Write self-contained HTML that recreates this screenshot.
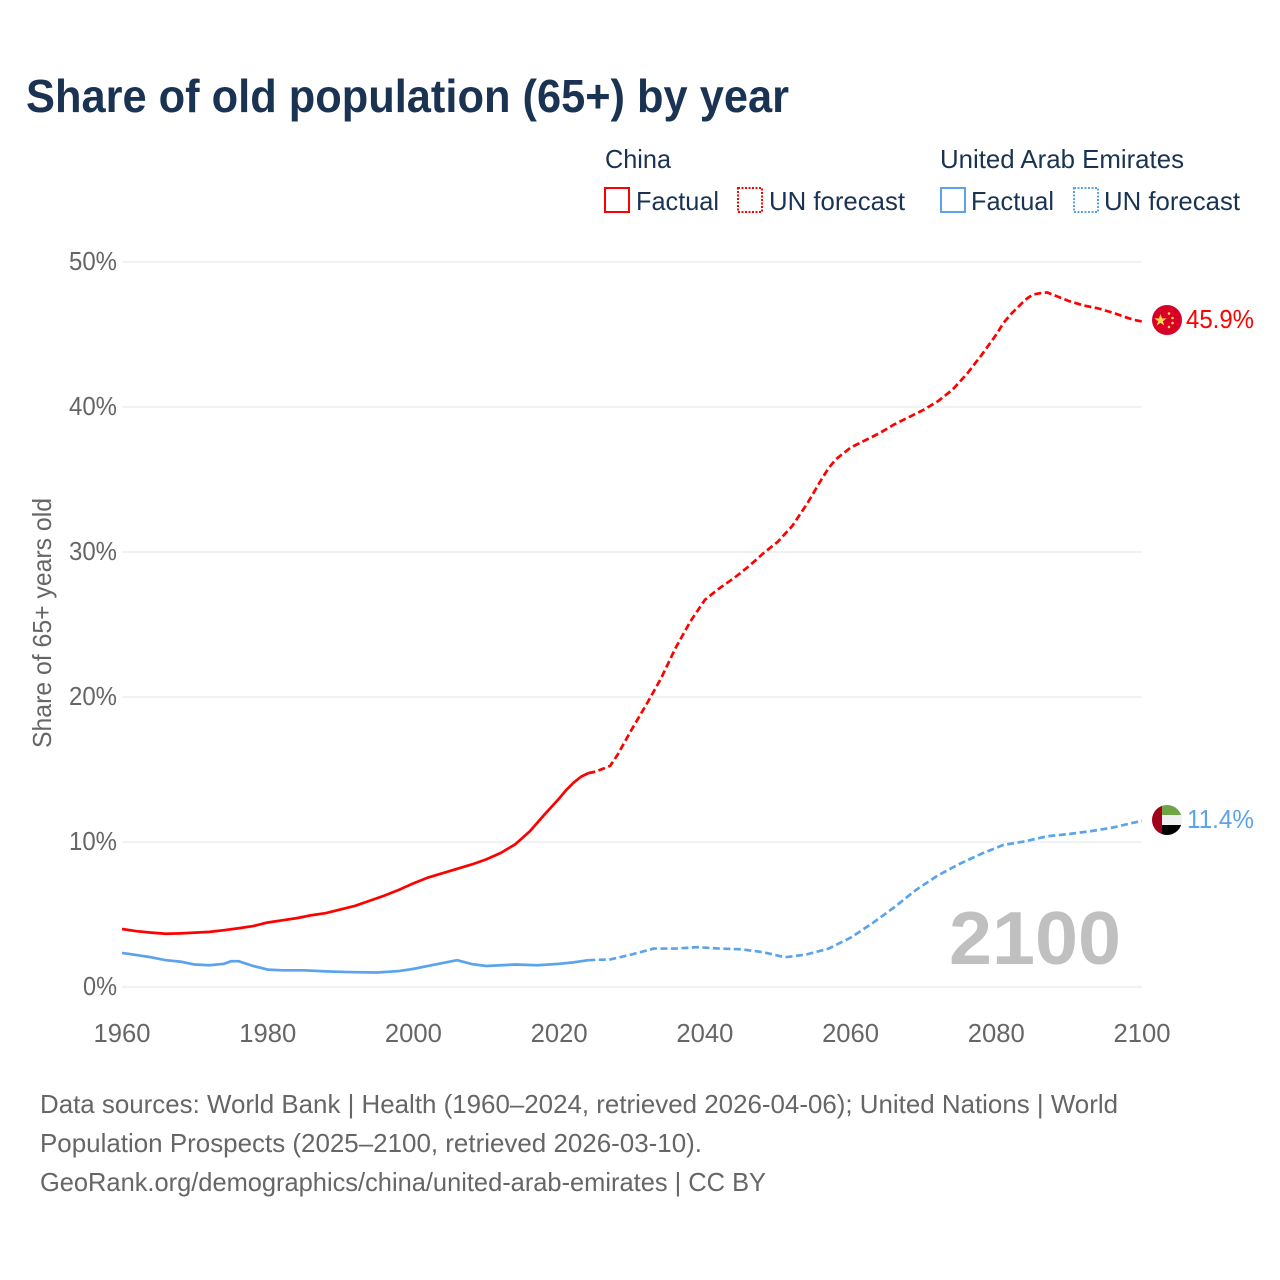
<!DOCTYPE html>
<html lang="en">
<head>
<meta charset="utf-8">
<title>Share of old population (65+) by year</title>
<style>
html,body{margin:0;padding:0;background:#fff;width:1280px;height:1280px;overflow:hidden}
svg{display:block;font-family:"Liberation Sans",sans-serif}
</style>
</head>
<body>
<svg id="chart" width="1280" height="1280" viewBox="0 0 1280 1280" xmlns="http://www.w3.org/2000/svg">
<rect width="1280" height="1280" fill="#fff"/>
<text x="26" y="112" font-size="46" font-weight="700" fill="#1a3353" textLength="763" lengthAdjust="spacingAndGlyphs">Share of old population (65+) by year</text>

<g font-size="26" fill="#1a3353">
<text x="605" y="168" textLength="66" lengthAdjust="spacingAndGlyphs">China</text>
<text x="940" y="168" textLength="244" lengthAdjust="spacingAndGlyphs">United Arab Emirates</text>
<rect x="605" y="188" width="24" height="24" fill="none" stroke="#ff0000" stroke-width="2"/>
<text x="636" y="210" textLength="83" lengthAdjust="spacingAndGlyphs">Factual</text>
<rect x="738" y="188" width="24" height="24" fill="none" stroke="#ff0000" stroke-width="2" stroke-dasharray="2 1.5"/>
<text x="769" y="210" textLength="136" lengthAdjust="spacingAndGlyphs">UN forecast</text>
<rect x="941" y="188" width="24" height="24" fill="none" stroke="#5ba4ec" stroke-width="2"/>
<text x="971" y="210" textLength="83" lengthAdjust="spacingAndGlyphs">Factual</text>
<rect x="1074" y="188" width="24" height="24" fill="none" stroke="#5ba4ec" stroke-width="2" stroke-dasharray="2 1.5"/>
<text x="1104" y="210" textLength="136" lengthAdjust="spacingAndGlyphs">UN forecast</text>
</g>

<g id="grid"></g>
<g id="yticks" font-size="26" fill="#666"></g>
<g id="xticks" font-size="26" fill="#666"></g>
<text transform="translate(51,748) rotate(-90)" font-size="26" fill="#666" textLength="250" lengthAdjust="spacingAndGlyphs">Share of 65+ years old</text>

<text x="949" y="964" font-size="75" font-weight="700" fill="#c0c0c0" textLength="172" lengthAdjust="spacingAndGlyphs">2100</text>

<g id="series"></g>

<g>
<circle cx="1167" cy="320" r="15" fill="#d80027"/>
<polygon points="1160.5,314 1162,318.4 1166.6,318.4 1162.9,321.2 1164.3,325.6 1160.5,322.9 1156.7,325.6 1158.1,321.2 1154.4,318.4 1159,318.4" fill="#ffda44"/>
<circle cx="1169" cy="313.5" r="1.3" fill="#ffda44"/>
<circle cx="1172.5" cy="318" r="1.3" fill="#ffda44"/>
<circle cx="1172.5" cy="323" r="1.3" fill="#ffda44"/>
<circle cx="1169" cy="327" r="1.3" fill="#ffda44"/>
<text x="1186" y="328" font-size="26" fill="#ff0000" textLength="68" lengthAdjust="spacingAndGlyphs">45.9%</text>
</g>
<g>
<clipPath id="uaeClip"><circle cx="1167" cy="820" r="15"/></clipPath>
<g clip-path="url(#uaeClip)">
<rect x="1152" y="805" width="30" height="30" fill="#f0f0f0"/>
<rect x="1162" y="805" width="20" height="10" fill="#6da544"/>
<rect x="1162" y="825" width="20" height="10" fill="#000"/>
<rect x="1152" y="805" width="10" height="30" fill="#a2001d"/>
</g>
<text x="1187" y="828" font-size="26" fill="#5ba4ec" textLength="67" lengthAdjust="spacingAndGlyphs">11.4%</text>
</g>

<g font-size="26" fill="#666">
<text x="40" y="1113" textLength="1078" lengthAdjust="spacingAndGlyphs">Data sources: World Bank | Health (1960–2024, retrieved 2026-04-06); United Nations | World</text>
<text x="40" y="1152" textLength="662" lengthAdjust="spacingAndGlyphs">Population Prospects (2025–2100, retrieved 2026-03-10).</text>
<text x="40" y="1191" textLength="726" lengthAdjust="spacingAndGlyphs">GeoRank.org/demographics/china/united-arab-emirates | CC BY</text>
</g>
</svg>
<script>
const xTickYears = [1960, 1980, 2000, 2020, 2040, 2060, 2080, 2100];
const yTickValues = [0, 10, 20, 30, 40, 50];
const chinaFactualYears = [1960,1962,1964,1966,1968,1970,1972,1974,1976,1978,1980,1982,1984,1986,1988,1990,1992,1994,1996,1998,2000,2002,2004,2006,2008,2010,2012,2014,2016,2018,2020,2021,2022,2023,2024];
const chinaFactualValues = [4.0,3.85,3.75,3.67,3.7,3.75,3.8,3.92,4.05,4.2,4.45,4.6,4.75,4.95,5.1,5.35,5.6,5.95,6.3,6.7,7.15,7.55,7.85,8.15,8.45,8.8,9.25,9.85,10.75,11.9,13.0,13.6,14.1,14.5,14.75];
const chinaForecastYears = [2024,2025,2027,2028,2030,2032,2034,2036,2038,2040,2042,2044,2046,2048,2050,2052,2054,2056,2057,2058,2060,2062,2064,2066,2068,2070,2072,2074,2076,2078,2080,2081,2082,2084,2085,2086,2087,2088,2090,2092,2094,2096,2098,2099,2100];
const chinaForecastValues = [14.75,14.85,15.25,16.0,17.8,19.5,21.3,23.4,25.2,26.7,27.5,28.2,29.0,29.9,30.7,31.8,33.3,35.0,35.8,36.4,37.2,37.7,38.2,38.8,39.3,39.8,40.4,41.2,42.3,43.6,45.0,45.8,46.4,47.4,47.75,47.85,47.9,47.7,47.3,47.0,46.8,46.5,46.15,46.0,45.9];
const uaeFactualYears = [1960,1962,1964,1966,1968,1970,1972,1974,1975,1976,1978,1980,1982,1985,1988,1991,1995,1998,2000,2002,2004,2006,2008,2010,2012,2014,2017,2020,2022,2024];
const uaeFactualValues = [2.35,2.2,2.05,1.85,1.75,1.55,1.5,1.6,1.78,1.78,1.45,1.2,1.15,1.15,1.08,1.03,1.0,1.1,1.25,1.45,1.65,1.85,1.58,1.45,1.5,1.55,1.5,1.6,1.7,1.85];
const uaeForecastYears = [2024,2027,2030,2033,2036,2039,2042,2045,2048,2051,2054,2057,2060,2063,2066,2069,2072,2075,2078,2081,2084,2087,2090,2093,2096,2099,2100];
const uaeForecastValues = [1.85,1.9,2.25,2.65,2.65,2.75,2.65,2.6,2.4,2.05,2.25,2.65,3.4,4.4,5.5,6.7,7.7,8.5,9.2,9.8,10.05,10.4,10.55,10.75,11.0,11.35,11.45];

const NS = 'http://www.w3.org/2000/svg';
const xScale = function (year) { return 122 + (year - 1960) * (1142 - 122) / 140; };
const yScale = function (value) { return 987 - value * (987 - 262) / 50; };

function svgEl(tag, attrs, parent) {
  const el = document.createElementNS(NS, tag);
  for (const k in attrs) el.setAttribute(k, attrs[k]);
  parent.appendChild(el);
  return el;
}

const gridGroup = document.getElementById('grid');
const yTickGroup = document.getElementById('yticks');
yTickValues.forEach(function (v) {
  const line = svgEl('line', { x1: 122, x2: 1142, y1: yScale(v), y2: yScale(v), stroke: '#ebedef', 'stroke-width': 1.5 }, gridGroup);
  
  
  const label = svgEl('text', { x: 117, y: yScale(v) + 8, 'text-anchor': 'end', textLength: v === 0 ? 34 : 48, lengthAdjust: 'spacingAndGlyphs' }, yTickGroup);
  
  
  label.textContent = v + '%';
});

const xTickGroup = document.getElementById('xticks');
xTickYears.forEach(function (year) {
  const label = svgEl('text', { x: xScale(year), y: 1042, 'text-anchor': 'middle', textLength: 57, lengthAdjust: 'spacingAndGlyphs' }, xTickGroup);
  
  
  label.textContent = year;
});

const seriesGroup = document.getElementById('series');
function drawLine(years, values, color, dash, name) {
  const pts = years.map(function (y, i) { return xScale(y).toFixed(2) + ',' + yScale(values[i]).toFixed(2); });
  const attrs = { points: pts.join(' '), fill: 'none', stroke: color, 'stroke-width': 2.7, 'stroke-linejoin': 'round' };
  if (dash) attrs['stroke-dasharray'] = dash;
  const line = svgEl('polyline', attrs, seriesGroup);
  
  
}
drawLine(uaeFactualYears, uaeFactualValues, '#5ba4ec', null, 'uae-factual-line');
drawLine(uaeForecastYears, uaeForecastValues, '#5ba4ec', '7 3.5', 'uae-forecast-line');
drawLine(chinaFactualYears, chinaFactualValues, '#ff0000', null, 'china-factual-line');
drawLine(chinaForecastYears, chinaForecastValues, '#ff0000', '7 3.5', 'china-forecast-line');
</script>
</body>
</html>
